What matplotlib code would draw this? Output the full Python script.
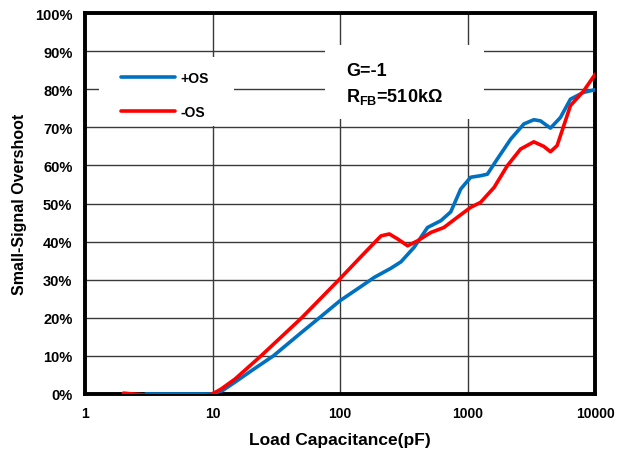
import numpy as np
import matplotlib
matplotlib.use('Agg')
import matplotlib.pyplot as plt
from matplotlib.patches import Rectangle
from matplotlib.ticker import FixedLocator, FuncFormatter

plt.rcParams['font.family'] = ['Liberation Sans', 'DejaVu Sans']
plt.rcParams['font.weight'] = 'bold'
plt.rcParams['mathtext.fontset'] = 'custom'
plt.rcParams['mathtext.rm'] = 'Liberation Sans:bold'
plt.rcParams['mathtext.bf'] = 'Liberation Sans:bold'

# +OS (blue)
cap_pos = [3, 5, 8, 10, 12, 15, 20, 30, 50, 70, 100, 150, 185, 250, 300, 380,
           484, 616, 736, 881, 1055, 1260, 1425, 1706, 2170, 2754, 3296, 3720,
           4450, 5330, 6380, 8110, 10000]
os_pos = [0, 0, 0, 0, 0.9, 3.1, 6.0, 10.0, 16.2, 20.2, 24.5, 28.5, 30.6, 33.0,
          34.7, 38.5, 43.7, 45.5, 47.8, 53.8, 56.9, 57.3, 57.7, 61.7, 66.9, 70.9,
          72.0, 71.7, 69.8, 72.6, 77.4, 79.2, 79.9]

# -OS (red)
cap_neg = [2, 3, 5, 8, 10, 11.7, 15, 24, 50, 100, 150, 209, 243, 282, 338, 404,
           514, 650, 830, 1055, 1260, 1607, 2040, 2594, 3296, 3945, 4450, 5015,
           5654, 6380, 8110, 10000]
os_neg = [0.2, -0.3, -1.5, -0.8, 0, 1.3, 3.9, 10.0, 20.0, 30.3, 36.5, 41.5, 42.0,
          40.7, 38.9, 40.2, 42.4, 43.7, 46.4, 49.0, 50.3, 54.2, 59.9, 64.3, 66.2,
          65.0, 63.6, 65.2, 70.4, 75.7, 79.6, 84.0]

x_ticks = [1, 10, 100, 1000, 10000]
y_ticks = list(range(0, 101, 10))

fig = plt.figure(figsize=(6.34, 4.56), dpi=100)
ax = fig.add_axes([0.134, 0.134, 0.805, 0.835])

ax.plot(cap_pos, os_pos, color='#0070C0', lw=2.6, label='+OS', zorder=3,
        solid_capstyle='round')
ax.plot(cap_neg, os_neg, color='#FF0000', lw=2.6, label='-OS', zorder=3,
        solid_capstyle='round')

ax.set_xscale('log')
ax.set_xlim(1, 10000)
ax.set_ylim(0, 100)
ax.xaxis.set_major_locator(FixedLocator(x_ticks))
ax.xaxis.set_minor_locator(FixedLocator([]))
ax.xaxis.set_major_formatter(FuncFormatter(lambda v, p: f'{v:g}'))
ax.yaxis.set_major_locator(FixedLocator(y_ticks))
ax.yaxis.set_major_formatter(FuncFormatter(lambda v, p: f'{v:.0f}%'))

ax.grid(True, color='#3a3a3a', lw=1.0, zorder=0)
ax.set_axisbelow(True)
for s in ax.spines.values():
    s.set_linewidth(2.8)
    s.set_color('black')
    s.set_zorder(2.5)
ax.tick_params(length=0)
ax.tick_params(axis='y', labelsize=10.5, pad=9)
ax.tick_params(axis='x', labelsize=10, pad=9)

ax.set_xlabel('Load Capacitance(pF)', fontsize=12.5, fontweight='bold', labelpad=8)
ax.set_ylabel('Small-Signal Overshoot', fontsize=11.5, fontweight='bold', labelpad=6)

# white boxes behind legend and annotation
ax.add_patch(Rectangle((0.027, 0.703), 0.265, 0.182, transform=ax.transAxes,
                       facecolor='white', edgecolor='none', zorder=4))
ax.add_patch(Rectangle((0.47, 0.722), 0.312, 0.194, transform=ax.transAxes,
                       facecolor='white', edgecolor='none', zorder=4))

leg = ax.legend(loc='upper left', bbox_to_anchor=(0.0706, 0.848), fontsize=10,
                frameon=False, handlelength=3.9, handletextpad=0.4,
                labelspacing=1.45, borderpad=0, borderaxespad=0)
leg.set_zorder(5)
for h in leg.get_lines():
    h.set_linewidth(2.6)
    h.set_solid_capstyle('round')

ax.text(0.512, 0.814, 'G=-1\nR$_{\\mathrm{FB}}$=510kΩ', transform=ax.transAxes,
        fontsize=13, fontweight='bold', ha='left', va='center', linespacing=1.45,
        zorder=5)

fig.savefig('out.png', dpi=100)
